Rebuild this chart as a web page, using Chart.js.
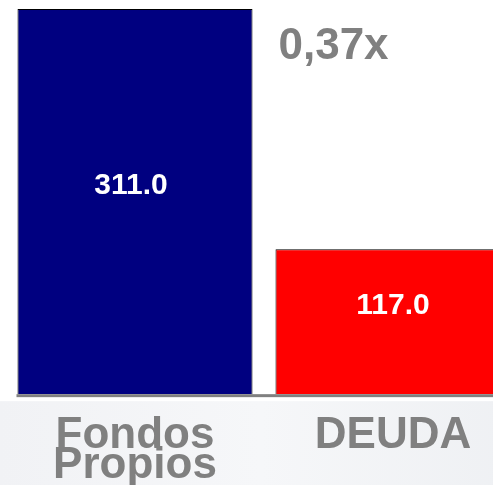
<!DOCTYPE html>
<html>
<head>
<meta charset="utf-8">
<script src="https://cdn.jsdelivr.net/npm/chart.js@4"></script>
<style>
  body { margin: 0; background: #fff; }
  #wrap { width: 493px; height: 485px; overflow: hidden; position: relative; }
  canvas { display: block; }
</style>
</head>
<body>
<div id="wrap">
  <canvas id="chart" width="522" height="508"></canvas>
</div>
<script>
const categories = [["Fondos", "Propios"], "DEUDA"];
const values = [311, 117];
const barColors = ["#000080", "#ff0000"];
const ratioLabel = "0,37x";

const gray = "#808080";

// background, baseline and text on the bars
const extras = {
  id: "extras",
  beforeDraw(chart) {
    const ctx = chart.ctx;
    const bottom = chart.scales.y.getPixelForValue(0);
    ctx.save();
    const grad = ctx.createLinearGradient(0, 0, chart.width, 0);
    grad.addColorStop(0, "#f1f2f5");
    grad.addColorStop(0.5, "#f6f7f9");
    grad.addColorStop(1, "#eef0f3");
    ctx.fillStyle = grad;
    ctx.fillRect(0, bottom + 7, chart.width, chart.height - bottom);
    ctx.restore();
  },
  afterDatasetsDraw(chart) {
    const ctx = chart.ctx;
    const y0 = chart.scales.y.getPixelForValue(0);
    const bars = chart.getDatasetMeta(0).data;
    ctx.save();
    ctx.fillStyle = gray;
    ctx.fillRect(bars[0].x - bars[0].width / 2 - 1, y0, chart.width, 3);

    ctx.font = "bold 30px 'Liberation Sans', Arial, sans-serif";
    ctx.fillStyle = "#ffffff";
    ctx.textAlign = "center";
    ctx.textBaseline = "middle";
    bars.forEach((bar, i) => {
      const mid = (bar.y + y0) / 2;
      ctx.fillText(values[i].toFixed(1), bar.x - (i === 0 ? 4 : 0), mid - 16);
    });

    ctx.font = "bold 44px 'Liberation Sans', Arial, sans-serif";
    ctx.fillStyle = gray;
    ctx.textAlign = "left";
    ctx.textBaseline = "alphabetic";
    ctx.fillText(ratioLabel, bars[1].x - bars[1].width / 2 + 3, 59);
    ctx.restore();
  }
};

new Chart(document.getElementById("chart"), {
  type: "bar",
  data: {
    labels: categories,
    datasets: [{
      data: values,
      backgroundColor: barColors,
      borderColor: "#000000",
      borderWidth: 1,
      borderSkipped: "bottom",
      categoryPercentage: 1,
      barPercentage: 0.911
    }]
  },
  options: {
    responsive: false,
    animation: false,
    layout: {
      padding: { top: 9, left: 6, right: 0, bottom: 0 }
    },
    plugins: {
      legend: { display: false },
      tooltip: { enabled: false }
    },
    scales: {
      x: {
        grid: { display: false, drawTicks: false },
        border: { display: false },
        ticks: {
          color: gray,
          padding: 27,
          font: {
            family: "'Liberation Sans', Arial, sans-serif",
            size: 44,
            weight: "bold",
            lineHeight: 0.68
          }
        }
      },
      y: {
        display: false,
        min: 0,
        max: 311
      }
    }
  },
  plugins: [extras]
});
</script>
</body>
</html>
